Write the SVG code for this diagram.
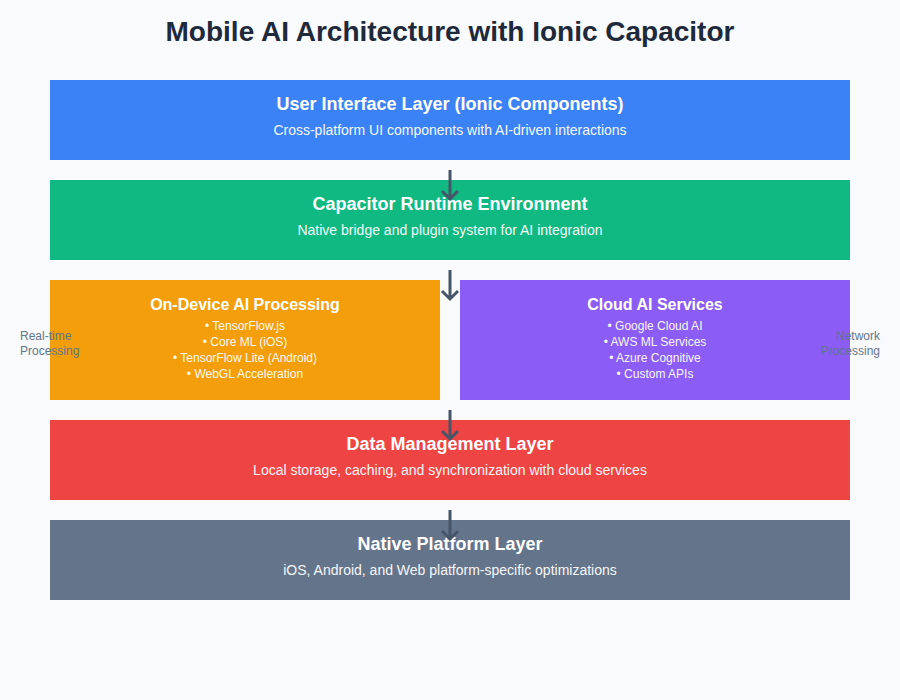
<svg xmlns="http://www.w3.org/2000/svg" width="900" height="700" viewBox="0 0 900 700">
<defs>
<style>
text{font-family:"Liberation Sans",Arial,sans-serif}
.title{font-size:28px;font-weight:bold;fill:#1e293b;text-anchor:middle}
.h{font-size:18px;font-weight:bold;fill:#fff;text-anchor:middle}
.h2{font-size:16px;font-weight:bold;fill:#fff;text-anchor:middle}
.s{font-size:14px;fill:#fff;text-anchor:middle;opacity:0.95}
.li{font-size:12px;fill:#fff;text-anchor:middle;opacity:0.95}
.lab{font-size:12px;fill:#64748b}
.arr{stroke:#475569;stroke-width:3;fill:none}
</style>
</defs>
<rect width="900" height="700" fill="#f8fafc"/>
<text class="title" x="450" y="41">Mobile AI Architecture with Ionic Capacitor</text>
<g id="ui-layer">
<rect x="50" y="80" width="800" height="80" fill="#3b82f6"/>
<text class="h" x="450" y="110">User Interface Layer (Ionic Components)</text>
<text class="s" x="450" y="135">Cross-platform UI components with AI-driven interactions</text>
</g>
<g id="capacitor-runtime">
<rect x="50" y="180" width="800" height="80" fill="#10b981"/>
<text class="h" x="450" y="210">Capacitor Runtime Environment</text>
<text class="s" x="450" y="235">Native bridge and plugin system for AI integration</text>
</g>
<g id="on-device-ai">
<rect x="50" y="280" width="390" height="120" fill="#f59e0b"/>
<text class="h2" x="245" y="310">On-Device AI Processing</text>
<text class="li" x="245" y="330">• TensorFlow.js</text>
<text class="li" x="245" y="346">• Core ML (iOS)</text>
<text class="li" x="245" y="362">• TensorFlow Lite (Android)</text>
<text class="li" x="245" y="378">• WebGL Acceleration</text>
</g>
<g id="cloud-ai">
<rect x="460" y="280" width="390" height="120" fill="#8b5cf6"/>
<text class="h2" x="655" y="310">Cloud AI Services</text>
<text class="li" x="655" y="330">• Google Cloud AI</text>
<text class="li" x="655" y="346">• AWS ML Services</text>
<text class="li" x="655" y="362">• Azure Cognitive</text>
<text class="li" x="655" y="378">• Custom APIs</text>
</g>
<g id="data-management">
<rect x="50" y="420" width="800" height="80" fill="#ef4444"/>
<text class="h" x="450" y="450">Data Management Layer</text>
<text class="s" x="450" y="475">Local storage, caching, and synchronization with cloud services</text>
</g>
<g id="native-platform">
<rect x="50" y="520" width="800" height="80" fill="#64748b"/>
<text class="h" x="450" y="550">Native Platform Layer</text>
<text class="s" x="450" y="575">iOS, Android, and Web platform-specific optimizations</text>
</g>
<g id="connectors">
<path class="arr" d="M450 170V199M442 191L450 199L458 191"/>
<path class="arr" d="M450 270V299M442 291L450 299L458 291"/>
<path class="arr" d="M450 410V439M442 431L450 439L458 431"/>
<path class="arr" d="M450 510V539M442 531L450 539L458 531"/>
</g>
<g id="labels">
<text class="lab" x="20" y="340">Real-time</text>
<text class="lab" x="20" y="355">Processing</text>
<text class="lab" x="880" y="340" text-anchor="end">Network</text>
<text class="lab" x="880" y="355" text-anchor="end">Processing</text>
</g>
</svg>
